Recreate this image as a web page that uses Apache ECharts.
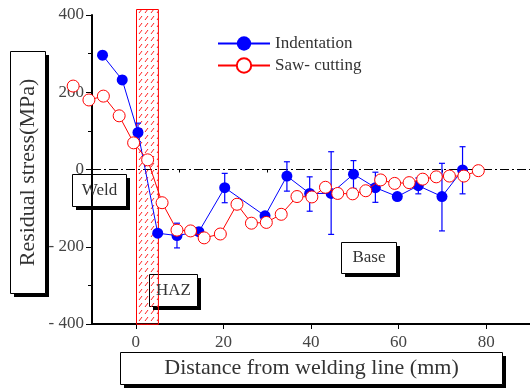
<!DOCTYPE html>
<html><head><meta charset="utf-8">
<script src="https://cdn.jsdelivr.net/npm/echarts@6/dist/echarts.min.js"></script>
<style>html,body{margin:0;padding:0;background:#fff}#c{width:530px;height:389px}</style>
</head><body><div id="c"></div>
<script>
// ---- data ----
const indX  = [-7.6, -3.1, 0.5, 5.0, 9.4, 14.4, 20.3, 29.5, 34.5, 39.7, 44.6, 49.7, 54.7, 59.7, 64.5, 69.9, 74.6];
const indY  = [296, 232, 96, -165, -171, -161, -47, -120, -17, -62, -62, -12, -47, -70, -42, -70, -1];
const indLo = [286, 222, 72, null, -203, null, -86, null, -56, -108, -168, -49, -85, null, -63, -159, -63];
const indHi = [306, 242, 120, null, -139, null, -10, null, 20, -19, 46, 23, -7, null, -22, 16, 59];
const sawX  = [-14.3, -10.7, -7.4, -3.8, -0.5, 2.7, 6.0, 9.4, 12.5, 15.6, 19.3, 23.1, 26.4, 29.8, 33.2, 36.8, 40.2, 43.3, 46.1, 49.5, 52.5, 55.9, 59.1, 62.4, 65.5, 68.6, 71.6, 74.9, 78.2];
const sawY  = [216, 180, 190, 139, 69, 25, -86, -157, -159, -177, -167, -90, -139, -137, -116, -70, -71, -46, -62, -63, -55, -27, -36, -34, -25, -19, -17, -17, -3];
const hazBand = [[0, 5, -400, 415]];
const xMajor = [0, 20, 40, 60, 80];
const xMinor = [10, 30, 50, 70];
const seriesNames = ['Indentation', 'Saw- cutting'];

const FONT = '"Liberation Serif", "DejaVu Serif", serif';
const TXT = '#333';

// hatch pattern (transparent background)
const pc = document.createElement('canvas');
pc.width = 6; pc.height = 7;
const g = pc.getContext('2d');
g.strokeStyle = '#ff2020'; g.lineWidth = 1;
g.beginPath(); g.moveTo(1, 6); g.lineTo(4, 2); g.stroke();

function box(x, y, w, h, text, fs, rot) {
  const off = 4;
  return {
    type: 'group', children: [
      {type: 'rect', z: 0, shape: {x: x + off, y: y + off, width: w, height: h}, style: {fill: '#000'}},
      {type: 'rect', z: 0, shape: {x: x + 0.5, y: y + 0.5, width: w, height: h}, style: {fill: '#fff', stroke: '#000', lineWidth: 1}},
      {type: 'text', z: 20, x: x + w / 2 + 0.5, y: y + h / 2 + 0.5, rotation: rot || 0,
       style: {text: text, font: fs + 'px ' + FONT, fill: TXT, align: 'center', verticalAlign: 'middle'}}
    ]
  };
}

const chart = echarts.init(document.getElementById('c'), null, {renderer: 'canvas'});
chart.setOption({
  animation: false,
  grid: {left: 92, right: 0, top: 15, bottom: 65, containLabel: false},
  legend: {
    orient: 'vertical', left: 217, top: 35, padding: 0, itemWidth: 52, itemHeight: 18, itemGap: 5,
    data: seriesNames,
    textStyle: {fontFamily: FONT, fontSize: 17, color: TXT}
  },
  xAxis: [{
    type: 'value', min: -10, max: 90,
    axisLine: {show: true, onZero: false, lineStyle: {color: '#000', width: 2}},
    axisTick: {show: true, customValues: xMajor, length: 5, lineStyle: {color: '#000', width: 1}},
    axisLabel: {customValues: xMajor, fontFamily: FONT, fontSize: 17, color: '#444', margin: 10},
    splitLine: {show: false}
  }, {
    type: 'value', min: -10, max: 90, position: 'bottom',
    axisLine: {show: false},
    axisTick: {show: true, customValues: xMinor, length: 3, lineStyle: {color: '#000', width: 1}},
    axisLabel: {show: false},
    splitLine: {show: false}
  }],
  yAxis: {
    type: 'value', min: -400, max: 400, interval: 200,
    axisLine: {show: true, onZero: false, lineStyle: {color: '#000', width: 2}},
    axisTick: {show: true, length: 6, lineStyle: {color: '#000', width: 1}},
    minorTick: {show: true, splitNumber: 2, length: 4, lineStyle: {color: '#000', width: 1}},
    axisLabel: {fontFamily: FONT, fontSize: 17, color: '#444', margin: 8,
      formatter: v => v < 0 ? '- ' + Math.abs(v) : String(v)},
    splitLine: {show: false}
  },
  series: [
    {
      type: 'custom', name: 'HAZ', z: 6, clip: false, silent: true,
      data: hazBand,
      encode: {x: [0, 1], y: [2, 3]},
      renderItem: function (params, api) {
        const p1 = api.coord([api.value(0), api.value(3)]);
        const p2 = api.coord([api.value(1), api.value(2)]);
        return {type: 'rect', shape: {x: Math.round(p1[0]) + 0.5, y: Math.round(p1[1]) + 0.5, width: p2[0] - p1[0], height: p2[1] - p1[1]},
          style: {fill: {image: pc, repeat: 'repeat'}, stroke: '#ff0000', lineWidth: 1}};
      }
    },
    {
      type: 'line', name: seriesNames[0], z: 8, clip: false,
      data: indX.map((x, i) => [x, indY[i]]),
      symbol: 'circle', symbolSize: 11,
      itemStyle: {color: '#0000ff'},
      lineStyle: {color: '#0000ff', width: 1},
      markLine: {
        silent: true, symbol: 'none', label: {show: false},
        lineStyle: {color: '#000', width: 1, type: [9, 3, 2, 3]},
        data: [{yAxis: 0}]
      }
    },
    {
      type: 'custom', name: 'err', z: 9, clip: false,
      data: indX.map((x, i) => [x, indLo[i], indHi[i]]).filter(d => d[1] !== null),
      encode: {x: 0, y: [1, 2]},
      renderItem: function (params, api) {
        const lo = api.coord([api.value(0), api.value(1)]);
        const hi = api.coord([api.value(0), api.value(2)]);
        const st = {stroke: '#0000ff', lineWidth: 1.2};
        const hw = 3;
        return {type: 'group', children: [
          {type: 'line', shape: {x1: lo[0], y1: lo[1], x2: hi[0], y2: hi[1]}, style: st},
          {type: 'line', shape: {x1: lo[0] - hw, y1: lo[1], x2: lo[0] + hw, y2: lo[1]}, style: st},
          {type: 'line', shape: {x1: hi[0] - hw, y1: hi[1], x2: hi[0] + hw, y2: hi[1]}, style: st}
        ]};
      }
    },
    {
      type: 'line', name: seriesNames[1], z: 10, clip: false,
      data: sawX.map((x, i) => [x, sawY[i]]),
      symbol: 'circle', symbolSize: 12,
      itemStyle: {color: '#fff', borderColor: '#ff0000', borderWidth: 1},
      lineStyle: {color: '#ff0000', width: 1}
    }
  ],
  graphic: {
    elements: [
      box(10, 51, 35, 242, 'Residual stress(MPa)', 22, Math.PI / 2),
      box(72, 174, 54, 32, 'Weld', 17),
      Object.assign(box(149, 274, 48, 32, 'HAZ', 17), {z: 0}),
      box(341, 242, 55, 31, 'Base', 17),
      box(120, 352, 382, 32, 'Distance from welding line (mm)', 22)
    ]
  }
});
</script></body></html>
